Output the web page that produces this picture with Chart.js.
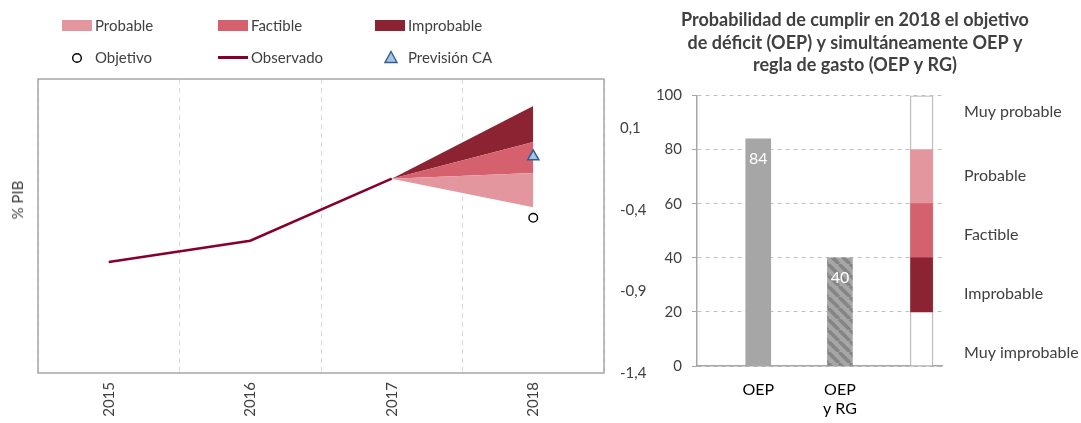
<!DOCTYPE html>
<html><head><meta charset="utf-8">
<script src="https://cdn.jsdelivr.net/npm/chart.js@4.4.1/dist/chart.umd.min.js"></script>
<style>
html,body{margin:0;padding:0;background:#fff;overflow:hidden;width:1081px;height:423px;font-family:Lato,sans-serif;}
canvas{position:absolute;top:0;}
#c1{left:0;}
#c2{left:630px;}
.lg{position:absolute;font-size:15px;color:#404040;line-height:18px;white-space:nowrap;}
.sw{position:absolute;width:30px;height:11px;}
#ytitle{position:absolute;left:17px;top:200px;transform:translate(-50%,-50%) rotate(-90deg);font-size:15px;color:#404040;white-space:nowrap;}
</style></head>
<body>
<canvas id="c1" width="660" height="423"></canvas>
<canvas id="c2" width="450" height="423"></canvas>
<div id="ytitle">% PIB</div>
<div id="legend"></div>
<script>
// ---- data: left chart ----
const years = ['2015', '2016', '2017', '2018'];
const observado = [-0.72, -0.59, -0.21, null];
const probableMin = [null, null, -0.21, -0.385];
const probableMax = [null, null, -0.21, -0.175];
const factibleMax = [null, null, -0.21, 0.015];
const improbableMax = [null, null, -0.21, 0.235];
const objetivo = [null, null, null, -0.45];
const prevision = [null, null, null, -0.075];
const pibTicks = [-1.4, -0.9, -0.4, 0.1];

// ---- data: right chart ----
const barCategories = [['OEP'], ['OEP', 'y RG']];
const barValues = [84, 40];
const improbableRange = [20, 40];
const factibleRange = [40, 60];
const probableRange = [60, 80];
const scaleRange = [0, 100];
const scaleBands = ['Muy probable', 'Probable', 'Factible', 'Improbable', 'Muy improbable'];
const titleLines = ['Probabilidad de cumplir en 2018 el objetivo', 'de déficit (OEP) y simultáneamente OEP y', 'regla de gasto (OEP y RG)'];

const C = {prob: '#e4969f', fact: '#d6616e', improb: '#8b2332', obs: '#87002b', txt: '#404040', axis: '#a6a6a6'};
Chart.defaults.font.family = 'Lato';

// ---- HTML legend (left chart) ----
(function () {
  const L = document.getElementById('legend');
  const add = (html) => { L.insertAdjacentHTML('beforeend', html); };
  const row1 = [['Probable', C.prob, 62], ['Factible', C.fact, 218], ['Improbable', C.improb, 375]];
  row1.forEach(([t, c, x]) => {
    add(`<div class="sw" style="left:${x}px;top:20px;background:${c}"></div>`);
    add(`<div class="lg" style="left:${x + 33}px;top:16px">${t}</div>`);
  });
  add(`<svg style="position:absolute;left:71px;top:52px" width="12" height="12"><circle cx="6" cy="6" r="4.3" fill="#fff" stroke="#000" stroke-width="1.4"/></svg>`);
  add(`<div class="lg" style="left:95px;top:48px">Objetivo</div>`);
  add(`<div style="position:absolute;left:218px;top:56px;width:30px;height:2.5px;background:${C.obs}"></div>`);
  add(`<div class="lg" style="left:251px;top:48px">Observado</div>`);
  add(`<svg style="position:absolute;left:383px;top:50px" width="16" height="14"><polygon points="8,1.5 14,12.5 2,12.5" fill="#a8c4e2" stroke="#2f5f92" stroke-width="1.4"/></svg>`);
  add(`<div class="lg" style="left:408px;top:48px">Previsión CA</div>`);
})();

const boxPlugin = {
  id: 'box',
  afterDatasetsDraw(chart) {
    const a = chart.chartArea, ctx = chart.ctx;
    ctx.save();
    ctx.strokeStyle = C.axis; ctx.lineWidth = 1.5;
    ctx.strokeRect(a.left, a.top, a.right - a.left, a.bottom - a.top);
    ctx.restore();
  }
};

new Chart(document.getElementById('c1'), {
  type: 'line',
  data: {
    labels: years,
    datasets: [
      {label: 'Previsión CA', data: prevision, showLine: false, pointStyle: 'triangle', pointRadius: 6.5,
        pointBackgroundColor: '#a8c4e2', pointBorderColor: '#2f5f92', pointBorderWidth: 1.5},
      {label: 'Objetivo', data: objetivo, showLine: false, pointStyle: 'circle', pointRadius: 4.3,
        pointBackgroundColor: '#fff', pointBorderColor: '#000', pointBorderWidth: 1.4},
      {label: 'Observado', data: observado, borderColor: C.obs, borderWidth: 2.5, pointRadius: 0, fill: false},
      {label: 'min', data: probableMin, borderWidth: 0, pointRadius: 0, fill: false},
      {label: 'Probable', data: probableMax, borderWidth: 0, pointRadius: 0, fill: 3, backgroundColor: C.prob},
      {label: 'Factible', data: factibleMax, borderWidth: 0, pointRadius: 0, fill: 4, backgroundColor: C.fact},
      {label: 'Improbable', data: improbableMax, borderWidth: 0, pointRadius: 0, fill: 5, backgroundColor: C.improb}
    ]
  },
  options: {
    responsive: false, animation: false, events: [],
    layout: {padding: {top: 79, left: 0, right: 0, bottom: 0}},
    plugins: {legend: {display: false}, tooltip: {enabled: false}},
    scales: {
      x: {
        offset: true,
        grid: {offset: true, color: '#d9d9d9', lineWidth: 1, drawTicks: false},
        border: {display: false, dash: [5, 4]},
        ticks: {minRotation: 90, maxRotation: 90, padding: 9, color: C.txt, font: {size: 15}},
        afterFit: s => { s.height = 50; }
      },
      y: {
        position: 'left', min: -1.4, max: 0.4,
        ticks: {display: false}, grid: {display: false, drawTicks: false}, border: {display: false},
        afterFit: s => { s.width = 38; }
      },
      y2: {
        position: 'right', min: -1.4, max: 0.4,
        afterBuildTicks: s => { s.ticks = pibTicks.map(v => ({value: v})); },
        ticks: {padding: 16, color: C.txt, font: {size: 15}, callback: v => v.toFixed(1).replace('.', ',')},
        grid: {display: false, drawTicks: false}, border: {display: false},
        afterFit: s => { s.width = 56; }
      }
    }
  },
  plugins: [boxPlugin]
});

// ---- right chart ----
const hatch = (() => {
  const s = 11, c = document.createElement('canvas');
  c.width = c.height = s;
  const g = c.getContext('2d');
  g.fillStyle = '#a6a6a6'; g.fillRect(0, 0, s, s);
  g.strokeStyle = '#858585'; g.lineWidth = 3.5;
  for (const o of [-s, 0, s]) { g.beginPath(); g.moveTo(o, 0); g.lineTo(o + s, s); g.stroke(); }
  return g.createPattern(c, 'repeat');
})();

const colX = barCategories.length + 0.75;
const valueLabels = {
  id: 'vl',
  afterDatasetsDraw(chart) {
    const meta = chart.getDatasetMeta(0), ctx = chart.ctx;
    ctx.save();
    ctx.fillStyle = '#fff'; ctx.font = '16px Lato';
    ctx.textAlign = 'center'; ctx.textBaseline = 'middle';
    meta.data.forEach((el, i) => ctx.fillText(String(barValues[i]), el.x, el.y + 20));
    ctx.restore();
  }
};

new Chart(document.getElementById('c2'), {
  type: 'bar',
  data: {
    datasets: [
      {data: barValues.map((v, i) => ({x: i + 0.75, y: v})), backgroundColor: ['#a6a6a6', hatch], barThickness: 25, grouped: false},
      {data: [{x: colX, y: improbableRange}], backgroundColor: C.improb, barThickness: 22, grouped: false},
      {data: [{x: colX, y: factibleRange}], backgroundColor: C.fact, barThickness: 22, grouped: false},
      {data: [{x: colX, y: probableRange}], backgroundColor: C.prob, barThickness: 22, grouped: false},
      {data: [{x: colX, y: scaleRange}], backgroundColor: '#fff', borderColor: '#c0c0c0', borderWidth: 1.5, barThickness: 23, grouped: false}
    ]
  },
  options: {
    responsive: false, animation: false, events: [],
    plugins: {
      legend: {display: false}, tooltip: {enabled: false},
      title: {display: true, text: titleLines, color: C.txt, font: {size: 18, weight: 'bold', lineHeight: 1.25}, padding: {top: 9, bottom: 19}}
    },
    scales: {
      x: {
        type: 'linear', min: 0, max: 3, offset: false,
        afterBuildTicks: s => { s.ticks = barCategories.map((c, i) => ({value: i + 0.75})); },
        ticks: {callback: (v, i) => barCategories[i], color: '#000', padding: 14, font: {size: 16}, autoSkip: false, maxRotation: 0},
        grid: {display: false, drawTicks: false},
        border: {color: C.axis, width: 1.5},
        afterFit: s => { s.height = 57; }
      },
      y: {
        min: 0, max: 100,
        ticks: {stepSize: 20, padding: 10, color: C.txt, font: {size: 15}},
        grid: {color: '#c0c0c0', tickLength: 5, tickColor: C.axis, tickBorderDash: []},
        border: {color: C.axis, width: 1.5, dash: [4, 4]},
        afterFit: s => { s.width = 67; }
      },
      y2: {
        position: 'right', min: 0, max: 100,
        afterBuildTicks: s => { s.ticks = [94, 70.4, 48.5, 26.7, 4.8].map(v => ({value: v})); },
        ticks: {callback: (v, i) => scaleBands[i], padding: 22, color: C.txt, font: {size: 16}, autoSkip: false},
        grid: {display: false, drawTicks: false}, border: {display: false},
        afterFit: s => { s.width = 138; }
      }
    }
  },
  plugins: [valueLabels]
});
</script>
</body></html>
